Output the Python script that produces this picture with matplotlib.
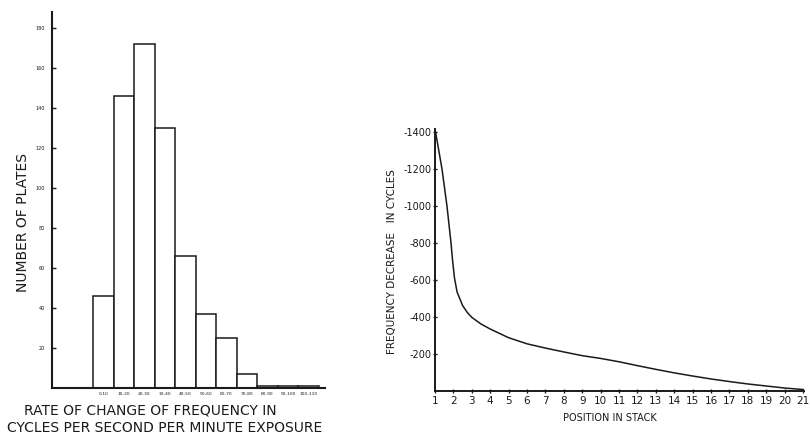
import matplotlib
matplotlib.use("Agg")
import matplotlib.pyplot as plt
import numpy as np

# ---- Left histogram data ----
bin_labels = ["0-10", "10-20", "20-30", "30-40", "40-50", "50-60",
              "60-70", "70-80", "80-90", "90-100", "100-110"]
bin_left = [0, 10, 20, 30, 40, 50, 60, 70, 80, 90, 100]
plate_counts = [46, 146, 172, 130, 66, 37, 25, 7, 1, 1, 1]
left_yticks = [20, 40, 60, 80, 100, 120, 140, 160, 180]

# ---- Right curve data ----
stack_pos = [1.03, 1.38, 1.65, 1.87, 1.96, 2.06, 2.2, 2.5, 2.75, 3, 3.5, 4, 5, 6, 7, 8, 9, 10,
             11, 12, 13, 14, 15, 16, 17, 18, 19, 20, 21]
freq_decrease = [-1400, -1200, -1000, -800, -700, -610, -535, -462, -425, -398, -362,
                 -335, -288, -255, -232, -211, -191, -176, -158, -137, -117, -98,
                 -81, -65, -51, -38, -27, -16, -8]
right_yticks = [-200, -400, -600, -800, -1000, -1200, -1400]
right_xticks = list(range(1, 22))

fig = plt.figure(figsize=(8.1, 4.38), dpi=100)
fig.patch.set_facecolor("white")
ink = "#1a1a1a"

# ---------------- Left panel ----------------
axL = fig.add_axes([52/810, (438-388)/438, (325-52)/810, (388-12)/438])
axL.bar(bin_left, plate_counts, width=10, align="edge", facecolor="white",
        edgecolor=ink, linewidth=1.1)
axL.set_xlim(-20, 113)
axL.set_ylim(0, 188)
for s in ["top", "right"]:
    axL.spines[s].set_visible(False)
for s in ["left", "bottom"]:
    axL.spines[s].set_linewidth(1.5)
    axL.spines[s].set_color(ink)
axL.set_yticks(left_yticks)
axL.set_yticklabels([str(v) for v in left_yticks], fontsize=3.5, color=ink)
axL.tick_params(axis="y", direction="in", length=3, width=1, pad=5, colors=ink)
axL.set_xticks([b + 5 for b in bin_left])
axL.set_xticklabels(bin_labels, fontsize=3.2, color=ink)
axL.tick_params(axis="x", length=0, pad=3)
axL.set_facecolor("white")

fig.text(150/810, 1 - 410/438, "RATE OF CHANGE OF FREQUENCY IN",
         ha="center", va="center", fontsize=10, color=ink)
fig.text(165/810, 1 - 428/438, "CYCLES PER SECOND PER MINUTE EXPOSURE",
         ha="center", va="center", fontsize=10, color=ink)
fig.text(23/810, 1 - 222/438, "NUMBER OF PLATES", rotation=90,
         ha="center", va="center", fontsize=10, color=ink)

# ---------------- Right panel ----------------
axR = fig.add_axes([435/810, (438-391)/438, (804-435)/810, (391-129)/438])
axR.plot(stack_pos, freq_decrease, color=ink, linewidth=1.1)
axR.set_xlim(1, 21.05)
axR.set_ylim(0, -1416)
for s in ["top", "right"]:
    axR.spines[s].set_visible(False)
for s in ["left", "bottom"]:
    axR.spines[s].set_linewidth(1.4)
    axR.spines[s].set_color(ink)
axR.set_yticks(right_yticks)
axR.set_yticklabels([str(v) for v in right_yticks], fontsize=7, color=ink)
axR.tick_params(axis="y", direction="inout", length=3, width=1, pad=1, colors=ink)
axR.set_xticks(right_xticks)
axR.set_xticklabels([str(v) for v in right_xticks], fontsize=7.5, color=ink)
axR.tick_params(axis="x", direction="inout", length=3, width=1, pad=2, colors=ink)
axR.set_facecolor("white")

fig.text(392/810, 1 - 262/438, "FREQUENCY DECREASE   IN CYCLES", rotation=90,
         ha="center", va="center", fontsize=7.5, color=ink)
fig.text(610/810, 1 - 418/438, "POSITION IN STACK",
         ha="center", va="center", fontsize=7, color=ink)

fig.savefig("out.png", dpi=100, facecolor="white")
